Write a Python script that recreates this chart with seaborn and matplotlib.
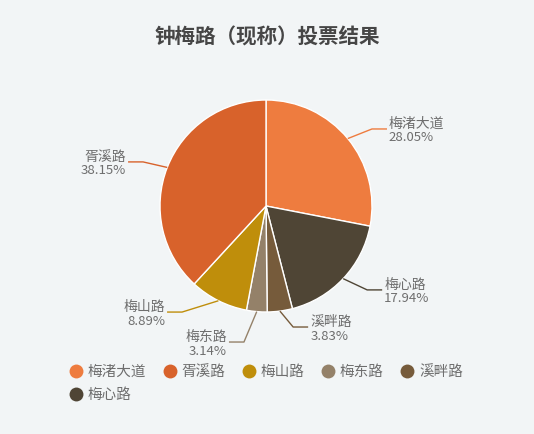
import numpy as np
import matplotlib
matplotlib.use("Agg")
import matplotlib.pyplot as plt
import seaborn as sns
from matplotlib.lines import Line2D

# ---- data ----
categories = ["梅渚大道", "梅心路", "溪畔路", "梅东路", "梅山路", "胥溪路"]
values = [28.05, 17.94, 3.83, 3.14, 8.89, 38.15]
pct_labels = ["28.05%", "17.94%", "3.83%", "3.14%", "8.89%", "38.15%"]
legend_order = ["梅渚大道", "胥溪路", "梅山路", "梅东路", "溪畔路", "梅心路"]
title = "钟梅路（现称）投票结果"

# ---- style ----
colors = {
    "梅渚大道": "#EE7C3F",
    "胥溪路": "#D8622B",
    "梅山路": "#BF8E0B",
    "梅东路": "#948169",
    "溪畔路": "#765B3B",
    "梅心路": "#4F4535",
}
bg = "#F2F5F6"
text_col = "#6E6E6E"
# label elbow tweaks: (angle offset in degrees, radius factor)
elbow_adj = {
    "梅渚大道": (-3.5, 1.236),
    "梅心路": (3.6, 1.24),
    "溪畔路": (5.1, 1.17),
    "梅东路": (-4.2, 1.30),
    "梅山路": (-11.7, 1.276),
    "胥溪路": (1.6, 1.232),
}

sns.set_theme(style="white", rc={"figure.facecolor": bg, "axes.facecolor": bg})
plt.rcParams["font.family"] = ["Noto Sans CJK SC", "DejaVu Sans"]

W, H = 534, 434
fig = plt.figure(figsize=(W / 100, H / 100), dpi=100)
ax = fig.add_axes([0, 0, 1, 1])
ax.set_facecolor(bg)

cx, cy, R = 266.0, 206.0, 106.0  # pixels from top-left

wedges, _ = ax.pie(
    values,
    colors=[colors[c] for c in categories],
    startangle=90,
    counterclock=False,
    radius=1.0,
    center=(0, 0),
    wedgeprops=dict(edgecolor="white", linewidth=1.0),
    frame=True,
)
ax.set_xlim(-cx / R, (W - cx) / R)
ax.set_ylim(-(H - cy) / R, cy / R)
ax.set_aspect("auto")
ax.set_axis_off()

px = 1.0 / R
total = sum(values)
cum = 0.0
for cat, v, pl in zip(categories, values, pct_labels):
    mid = cum + v / 2.0
    cum += v
    ang = np.deg2rad(90 - 360 * mid / total)
    da, rf = elbow_adj[cat]
    ang2 = ang + np.deg2rad(da)
    x0, y0 = np.cos(ang), np.sin(ang)
    x1, y1 = rf * np.cos(ang2), rf * np.sin(ang2)
    side = 1 if x1 >= 0 else -1
    x2 = x1 + side * 15 * px
    ax.plot([x0, x1, x2], [y0, y1, y1], color=colors[cat], lw=1.0,
            solid_capstyle="butt", zorder=1)
    tx = x2 + side * 2 * px
    ha = "left" if side > 0 else "right"
    ax.text(tx, y1 + 5 * px, cat, ha=ha, va="center", fontsize=10,
            color=text_col)
    ax.text(tx, y1 - 9 * px, pl, ha=ha, va="center", fontsize=9.5,
            color=text_col)

fig.text(267 / W, 1 - 37 / H, title, ha="center", va="center",
         fontsize=14.8, fontweight="bold", color="#464646")

# legend (column-major fill: reorder so that the 6th item sits under the 1st)
handles = {c: Line2D([], [], marker="o", linestyle="none", markersize=10,
                     markerfacecolor=colors[c], markeredgecolor="none")
           for c in categories}
order = [legend_order[0], legend_order[5]] + legend_order[1:5]
leg = fig.legend([handles[c] for c in order], order,
                 loc="upper left", bbox_to_anchor=(68.5 / W, 1 - 365 / H),
                 ncol=5, frameon=False, fontsize=10.5, handletextpad=0.32,
                 columnspacing=1.1, labelspacing=0.64, handlelength=1.0,
                 borderaxespad=0, borderpad=0, labelcolor=text_col)

fig.savefig("out.png", dpi=100, facecolor=bg)
